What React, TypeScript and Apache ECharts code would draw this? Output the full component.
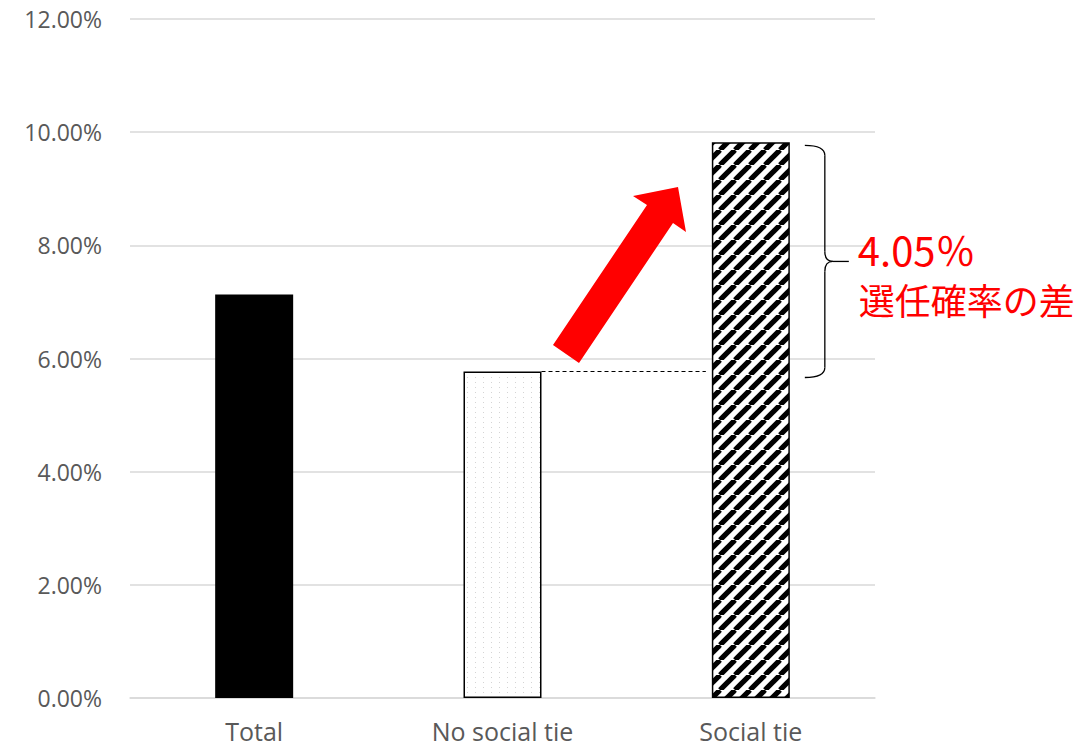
import React, { useEffect, useRef } from "react";
import * as echarts from "echarts";

const categories = ["Total", "No social tie", "Social tie"];
const selectionRate = [7.13, 5.77, 9.82]; // %
const gapLabel = "4.05％";
const gapCaption = "選任確率の差";
const yMax = 12;
const yStep = 2;

function stripeTile(): HTMLCanvasElement {
  const s = 15;
  const c = document.createElement("canvas");
  c.width = s;
  c.height = s;
  const g = c.getContext("2d")!;
  g.fillStyle = "#ffffff";
  g.fillRect(0, 0, s, s);
  g.strokeStyle = "#000000";
  g.lineWidth = 5.2;
  for (const k of [-s, 0, s]) {
    g.beginPath();
    g.moveTo(k, s);
    g.lineTo(k + s, 0);
    g.stroke();
  }
  return c;
}

function dotTile(): HTMLCanvasElement {
  const c = document.createElement("canvas");
  c.width = 8;
  c.height = 5;
  const g = c.getContext("2d")!;
  g.fillStyle = "#ffffff";
  g.fillRect(0, 0, 8, 5);
  g.fillStyle = "#d4d4d4";
  g.fillRect(3, 2, 1, 1);
  return c;
}

export default function App() {
  const ref = useRef<HTMLDivElement>(null);

  useEffect(() => {
    if (!ref.current) return;
    const chart = echarts.init(ref.current, null, { renderer: "svg" });
    const fills = [
      "#000000",
      { image: dotTile(), repeat: "repeat" },
      { image: stripeTile(), repeat: "repeat" },
    ];
    chart.setOption({
      animation: false,
      backgroundColor: "#ffffff",
      grid: { left: 130, right: 208, top: 19, bottom: 50 },
      xAxis: {
        type: "category",
        data: categories,
        axisTick: { show: false },
        axisLine: { lineStyle: { color: "#d9d9d9", width: 1.5 } },
        axisLabel: {
          color: "#595959",
          fontFamily: "Open Sans",
          fontSize: 25,
          margin: 20,
        },
      },
      yAxis: {
        type: "value",
        min: 0,
        max: yMax,
        interval: yStep,
        axisLine: { show: false },
        axisTick: { show: false },
        splitLine: { lineStyle: { color: "#d9d9d9", width: 1.5 } },
        axisLabel: {
          color: "#595959",
          fontFamily: "Open Sans",
          fontSize: 23,
          margin: 28,
          formatter: (v: number) => v.toFixed(2) + "%",
        },
      },
      series: [
        {
          type: "bar",
          barWidth: 78,
          data: selectionRate.map((v, i) => ({
            value: v,
            itemStyle: {
              color: fills[i],
              borderColor: "#000000",
              borderWidth: i === 0 ? 0 : 1.5,
            },
          })),
        },
      ],
    });

    const half = 39;
    const [noX, noY] = chart.convertToPixel({ seriesIndex: 0 }, [1, selectionRate[1]]) as number[];
    const [stX, stY] = chart.convertToPixel({ seriesIndex: 0 }, [2, selectionRate[2]]) as number[];
    const bx = stX + half + 15; // brace ends
    const vx = bx + 20; // brace spine
    const top = stY + 3;
    const bot = noY + 6;
    const mid = (top + bot) / 2;
    const stroke = { stroke: "#000000", lineWidth: 1.3, fill: "none" };

    chart.setOption({
      graphic: [
        {
          type: "line",
          shape: { x1: noX + half, y1: noY, x2: stX - half - 6, y2: noY },
          style: { stroke: "#000000", lineWidth: 1, lineDash: [4, 3] },
        },
        {
          type: "polygon",
          shape: {
            points: [
              [553, 345],
              [579, 363],
              [673, 223],
              [686, 232],
              [678, 187],
              [633, 196],
              [647, 205],
            ],
          },
          style: { fill: "#ff0000" },
        },
        { type: "bezierCurve", shape: { x1: bx, y1: top, cpx1: vx, cpy1: top, x2: vx, y2: top + 10 }, style: stroke },
        { type: "line", shape: { x1: vx, y1: top + 10, x2: vx, y2: mid - 10 }, style: stroke },
        { type: "bezierCurve", shape: { x1: vx, y1: mid - 10, cpx1: vx, cpy1: mid, x2: vx + 8, y2: mid }, style: stroke },
        { type: "bezierCurve", shape: { x1: vx + 8, y1: mid, cpx1: vx, cpy1: mid, x2: vx, y2: mid + 10 }, style: stroke },
        { type: "line", shape: { x1: vx + 8, y1: mid, x2: vx + 24, y2: mid }, style: stroke },
        { type: "line", shape: { x1: vx, y1: mid + 10, x2: vx, y2: bot - 10 }, style: stroke },
        { type: "bezierCurve", shape: { x1: vx, y1: bot - 10, cpx1: vx, cpy1: bot, x2: bx, y2: bot }, style: stroke },
        {
          type: "text",
          x: vx + 33,
          y: mid - 12,
          style: {
            text: gapLabel,
            fill: "#ff0000",
            font: '40px "Noto Sans CJK JP"',
            verticalAlign: "middle",
          },
        },
        {
          type: "text",
          x: vx + 34,
          y: mid + 38,
          style: {
            text: gapCaption,
            fill: "#ff0000",
            font: '36px "Noto Sans CJK JP"',
            verticalAlign: "middle",
          },
        },
      ],
    });

    return () => chart.dispose();
  }, []);

  return (
    <div
      ref={ref}
      style={{ position: "absolute", left: 0, top: 0, width: 1083, height: 748 }}
    />
  );
}
